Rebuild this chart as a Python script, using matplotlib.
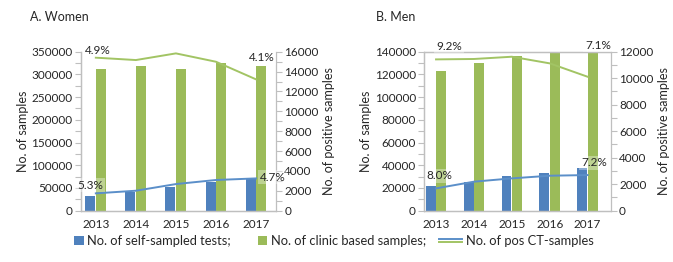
import matplotlib.pyplot as plt
from matplotlib.legend_handler import HandlerBase
from matplotlib.lines import Line2D
from matplotlib.patches import Patch, Rectangle
from matplotlib.ticker import MultipleLocator

plt.rcParams["font.family"] = ["Lato", "DejaVu Sans"]

years = ["2013", "2014", "2015", "2016", "2017"]

women_self = [33000, 40400, 51400, 62400, 71200]
women_clinic = [311800, 319200, 311800, 324300, 319200]
women_pos_clinic = [15400, 15160, 15830, 14990, 13220]
women_pos_self = [1745, 2010, 2680, 3090, 3250]
women_labels = ["4.9%", "4.1%", "5.3%", "4.7%"]

men_self = [21700, 25500, 30500, 33500, 37300]
men_clinic = [123300, 129700, 136200, 141000, 143000]
men_pos_clinic = [11420, 11450, 11620, 11120, 10110]
men_pos_self = [1685, 2190, 2440, 2640, 2690]
men_labels = ["9.2%", "7.1%", "8.0%", "7.2%"]

BLUE = "#4F81BD"
GREEN = "#9BBB59"
LINE_BLUE = "#5B8FC9"
LINE_GREEN = "#A2C464"
GRAY = "#BFBFBF"
TEXT = "#262626"


class DoubleLineHandler(HandlerBase):
    def create_artists(self, legend, orig_handle, xdescent, ydescent,
                       width, height, fontsize, trans):
        y = height / 2 - ydescent
        x0 = 0.3 * width
        top = Line2D([x0, width], [y + 1.3, y + 1.3], color=LINE_BLUE, lw=1.4, transform=trans)
        bot = Line2D([x0, width], [y - 1.3, y - 1.3], color=LINE_GREEN, lw=1.4, transform=trans)
        return [top, bot]


class SquareHandler(HandlerBase):
    def create_artists(self, legend, orig_handle, xdescent, ydescent,
                       width, height, fontsize, trans):
        side = height
        sq = Rectangle((width - side - xdescent, -ydescent), side, side,
                       facecolor=orig_handle.get_facecolor(), edgecolor="none", transform=trans)
        return [sq]


def draw_panel(rect, title, title_x, self_vals, clinic_vals, pos_clinic, pos_self,
               labels, label_pos, ymax, ystep, y2max, xlim, width, top_line):
    ax = fig.add_axes(rect)
    ax2 = ax.twinx()
    x = list(range(len(years)))
    ax.bar([i - width / 2 - 0.01 for i in x], self_vals, width, color=BLUE, zorder=2)
    ax.bar([i + width / 2 + 0.01 for i in x], clinic_vals, width, color=GREEN, zorder=2)
    ax2.plot(x, pos_clinic, color=LINE_GREEN, lw=1.4)
    ax2.plot(x, pos_self, color=LINE_BLUE, lw=1.4)

    ax.set_xlim(*xlim)
    ax.set_ylim(0, ymax)
    ax2.set_ylim(0, y2max)
    ax.set_xticks(x)
    ax.set_xticklabels(years)
    ax.yaxis.set_major_locator(MultipleLocator(ystep))
    ax.yaxis.set_minor_locator(MultipleLocator(ystep / 2))
    ax2.yaxis.set_major_locator(MultipleLocator(2000))
    ax2.yaxis.set_minor_locator(MultipleLocator(1000))

    for a in (ax, ax2):
        a.tick_params(axis="y", which="both", length=4, width=0.8, color=GRAY,
                      labelsize=8.5, labelcolor=TEXT, pad=2)
        a.tick_params(axis="x", length=0, labelsize=8.5, labelcolor=TEXT, pad=6)
        for spine in a.spines.values():
            spine.set_color(GRAY)
            spine.set_linewidth(0.9)
        a.spines["top"].set_visible(top_line)
    ax.spines["right"].set_visible(False)

    ax.set_ylabel("No. of samples", fontsize=9, color=TEXT, labelpad=2)
    ax2.set_ylabel("No. of positive samples", fontsize=9, color=TEXT, labelpad=3)

    for text, (tx, ty) in zip(labels, label_pos):
        ax2.text(tx, ty, text, ha="center", va="center", fontsize=8.5, color=TEXT,
                 bbox=dict(boxstyle="square,pad=0.15", fc="white", ec="none", alpha=0.35),
                 zorder=5)

    fig.text(title_x, 1 - 17 / 262, title, ha="left", va="center", fontsize=9, color=TEXT)


fig = plt.figure(figsize=(6.73, 2.62), dpi=100)

bottom = 1 - 210.7 / 262
height = 159 / 262

draw_panel([81 / 673, bottom, 195 / 673, height], "A. Women", 30 / 673,
           women_self, women_clinic, women_pos_clinic, women_pos_self,
           women_labels, [(0.05, 16170), (4.14, 15370), (-0.15, 2586), (4.42, 3391)],
           350000, 50000, 16000, (-0.37, 4.5), 0.25, False)

draw_panel([424.3 / 673, bottom, 186.4 / 673, height], "B. Men", 376 / 673,
           men_self, men_clinic, men_pos_clinic, men_pos_self,
           men_labels, [(0.34, 12430), (4.27, 12500), (0.09, 2619), (4.17, 3600)],
           140000, 20000, 12000, (-0.31, 4.61), 0.26, True)

handles = [Patch(color=BLUE), Patch(color=GREEN), Line2D([], [])]
fig.legend(handles,
           ["No. of self-sampled tests;", "No. of clinic based samples;", "No. of pos CT-samples"],
           handler_map={Patch: SquareHandler(), Line2D: DoubleLineHandler()},
           loc="center", bbox_to_anchor=(322 / 673, 1 - 241 / 262), ncol=3, frameon=False,
           fontsize=9.3, handlelength=2.6, handleheight=0.75, handletextpad=0.3,
           columnspacing=0.2, labelcolor=TEXT)

fig.savefig("out.png", dpi=100)
